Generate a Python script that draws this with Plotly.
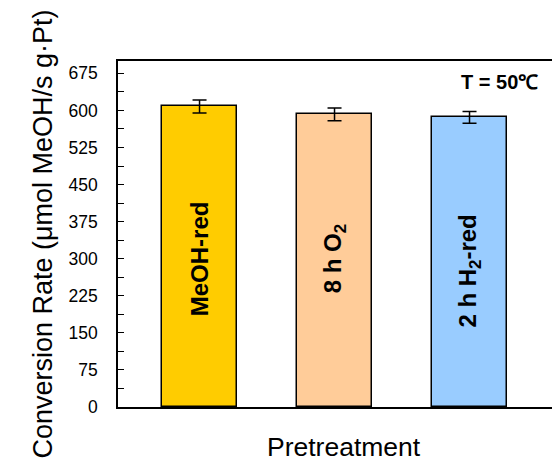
import plotly.graph_objects as go

categories = ["MeOH-red", "8 h O2", "2 h H2-red"]
bar_labels = ["MeOH-red", "8 h O<sub>2</sub>", "2 h H<sub>2</sub>-red"]
values = [608, 592, 586]
errors = [13, 13, 12]
colors = ["#FFCC00", "#FFCC99", "#99CCFF"]
y_ticks = [0, 75, 150, 225, 300, 375, 450, 525, 600, 675]

FONT = "Liberation Sans, Arial, sans-serif"
label_y = [300, 300, 275]

fig = go.Figure()
fig.add_trace(go.Bar(
    x=list(range(len(categories))),
    y=values,
    width=0.556,
    marker=dict(color=colors, line=dict(color="black", width=1.5)),
    error_y=dict(type="data", array=errors, color="black", thickness=1.5, width=7),
    showlegend=False,
))

for i, lab in enumerate(bar_labels):
    fig.add_annotation(x=i, y=label_y[i], text="<b>" + lab + "</b>", textangle=-90,
                       showarrow=False, font=dict(family=FONT, size=24, color="black"))

fig.add_annotation(xref="paper", yref="paper", x=0.88, y=0.939, xanchor="center", yanchor="middle",
                   text="<b>T = 50℃</b>",
                   showarrow=False, font=dict(family=FONT, size=20, color="black"))

fig.add_annotation(xref="paper", yref="paper", x=0.52, y=-0.115, xanchor="center", yanchor="middle",
                   text="Pretreatment", showarrow=False,
                   font=dict(family=FONT, size=26.5, color="black"))

fig.update_layout(
    width=552, height=463,
    margin=dict(l=118, r=0, t=61, b=56),
    paper_bgcolor="white", plot_bgcolor="white",
    font=dict(family=FONT, color="black"),
    bargap=0,
)
fig.update_xaxes(
    range=[-0.604, 2.611], showline=True, linecolor="black", linewidth=1.5,
    mirror=True, showticklabels=False, ticks="", showgrid=False, zeroline=False,
)
fig.update_yaxes(
    range=[0, 700], tickvals=y_ticks, showline=True, linecolor="black", linewidth=1.5,
    ticks="inside", ticklen=6, tickwidth=1, tickcolor="black", showgrid=False, zeroline=False,
    tickfont=dict(family=FONT, size=17.5), ticklabelstandoff=15,
    minor=dict(tickvals=[37.5 + 75 * k for k in range(9)], ticks="inside", ticklen=6, tickcolor="black"),
    title=dict(text="Conversion Rate (μmol MeOH/s g·Pt)", font=dict(family=FONT, size=27), standoff=8),
)

fig.write_html("out.html")
